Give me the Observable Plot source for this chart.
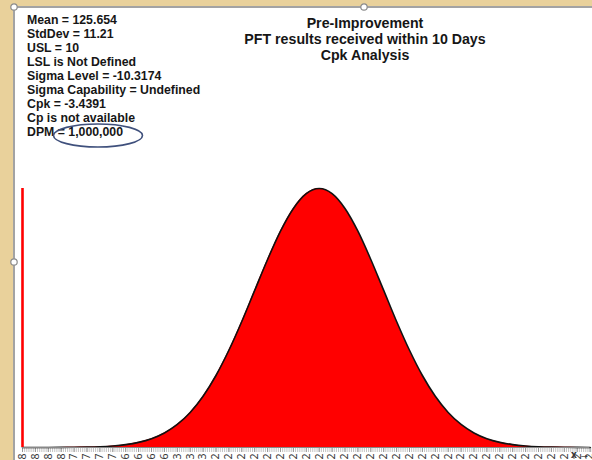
<!DOCTYPE html>
<html>
<head>
<meta charset="utf-8">
<script src="https://cdn.jsdelivr.net/npm/d3@7"></script>
<script src="https://cdn.jsdelivr.net/npm/@observablehq/plot@0.6"></script>
<style>
  html, body { margin: 0; padding: 0; }
  body { width: 592px; height: 460px; overflow: hidden; position: relative;
         background: #e9d19b; font-family: "Liberation Sans", Arial, sans-serif; }
  #box { position: absolute; left: 13px; top: 6px; width: 600px; height: 470px;
         background: #fff; border-left: 2px solid #a3a3a3; border-top: 2px solid #a3a3a3; box-sizing: border-box; }
  #chart { position: absolute; left: 13px; top: 6px; }
  #stats { position: absolute; left: 27px; top: 12.7px; font-size: 12.3px; font-weight: bold;
           line-height: 14.1px; color: #161616; white-space: nowrap; }
  #title { position: absolute; left: 215px; width: 300px; top: 14.6px; font-size: 14.2px; font-weight: bold;
           line-height: 16px; color: #161616; text-align: center; white-space: nowrap; }
  #deco { position: absolute; left: 0; top: 0; pointer-events: none; }
</style>
</head>
<body>
<div id="box"></div>
<div id="chart"></div>
<div id="stats"></div>
<div id="title"></div>
<svg id="deco" width="592" height="460"></svg>
<script>
// ---- data ----
const titleLines = ["Pre-Improvement", "PFT results received within 10 Days", "Cpk Analysis"];
const statLines = [
  "Mean = 125.654",
  "StdDev = 11.21",
  "USL = 10",
  "LSL is Not Defined",
  "Sigma Level = -10.3174",
  "Sigma Capability = Undefined",
  "Cpk = -3.4391",
  "Cp is not available",
  "DPM = 1,000,000"
];
const USL = 10;
// category positions along the x axis (value at each axis category)
const xValues = [74.088, 76.33, 78.572, 80.814, 83.056, 85.298, 87.54, 89.782, 92.024, 94.266,
  96.508, 98.75, 100.992, 103.234, 105.476, 107.718, 109.96, 112.202, 114.444, 116.686,
  118.928, 121.17, 123.412, 125.654, 127.896, 130.138, 132.38, 134.622, 136.864, 139.106,
  141.348, 143.59, 145.832, 148.074, 150.316, 152.558, 154.8, 157.042, 159.284, 161.526,
  163.768, 166.01, 168.252, 170.494, 172.736];
// density at each category
const density = [0.0000009, 0.0000022, 0.0000052, 0.0000119, 0.000026, 0.0000545, 0.00011, 0.000213,
  0.000395, 0.000706, 0.001212, 0.001998, 0.003165, 0.004817, 0.007043, 0.009895, 0.01336,
  0.01732, 0.02159, 0.02584, 0.02973, 0.03285, 0.03489, 0.03559, 0.03489, 0.03285, 0.02973,
  0.02584, 0.02159, 0.01732, 0.01336, 0.009895, 0.007043, 0.004817, 0.003165, 0.001998,
  0.001212, 0.000706, 0.000395, 0.000213, 0.00011, 0.0000545, 0.000026, 0.0000119, 0.0000052];
// tick labels as shown on the axis (floating point artifacts)
const tickLabels = ["74.0880000000008","76.3300000000008","78.5720000000008","80.8140000000008",
  "83.0560000000007","85.2980000000007","87.5400000000007","89.7820000000007",
  "92.0240000000006","94.2660000000006","96.5080000000006","98.7500000000006",
  "100.992000000003","103.234000000003","105.476000000003","107.718000000002",
  "109.960000000002","112.202000000002","114.444000000002","116.686000000002",
  "118.928000000002","121.170000000002","123.412000000002","125.654000000002",
  "127.896000000002","130.138000000002","132.380000000002","134.622000000002",
  "136.864000000002","139.106000000002","141.348000000002","143.590000000002",
  "145.832000000002","148.074000000002","150.316000000002","152.558000000002",
  "154.800000000002","157.042000000002","159.284000000002","161.526000000002",
  "163.768000000002","166.010000000002","168.252000000002","170.494000000002",
  "172.736000000002"];

// ---- build ----
document.getElementById("stats").innerHTML = statLines.map(s => `<div>${s}</div>`).join("");
document.getElementById("title").innerHTML = titleLines.map(s => `<div>${s}</div>`).join("");

const data = xValues.map((x, i) => ({x, y: density[i]}));
const xMin = xValues[0], xMax = xValues[xValues.length - 1];
const peak = d3.max(density);
const step = xValues[1] - xValues[0];
const minorTicks = d3.range(xMin, xMax + step, step / 6);
const labelOf = new Map(xValues.map((v, i) => [v, tickLabels[i]]));

const plot = Plot.plot({
  width: 579,
  height: 454,
  marginLeft: 9,
  marginRight: 2.4,
  marginTop: 182,
  marginBottom: 13,
  style: {background: "transparent", overflow: "hidden"},
  x: {domain: [xMin, xMax], axis: null},
  y: {domain: [0, peak], axis: null},
  marks: [
    Plot.axisX({ticks: minorTicks, tickSize: 5, tickFormat: () => "", stroke: "#b4b4b4", strokeWidth: 0.8}),
    Plot.axisX({ticks: xValues, tickSize: 5, tickPadding: 1, tickRotate: -90, fontSize: 10.5,
      fill: "#3a3a3a", stroke: "#999", tickFormat: d => labelOf.get(d)}),
    Plot.areaY(data, {x: "x", y: "y", fill: "#ff0000", curve: "monotone-x"}),
    Plot.line(data, {x: "x", y: "y", stroke: "#111", strokeWidth: 1.6, curve: "monotone-x"}),
    Plot.ruleY([0], {stroke: "#888", strokeWidth: 1}),
    Plot.ruleX([Math.max(USL, xMin)], {y1: 0, y2: peak, stroke: "#ff0000", strokeWidth: 2.6})
  ]
});
document.getElementById("chart").appendChild(plot);

// decorations: highlight ellipse and selection handles
const deco = d3.select("#deco");
deco.append("ellipse").attr("cx", 98).attr("cy", 135.5).attr("rx", 44.5).attr("ry", 11.5)
  .attr("fill", "none").attr("stroke", "#3f507c").attr("stroke-width", 1.6);
[[14, 7], [364, 7], [14, 262]].forEach(([cx, cy]) => {
  deco.append("circle").attr("cx", cx).attr("cy", cy).attr("r", 3.2)
    .attr("fill", "#fff").attr("stroke", "#8a8a8a").attr("stroke-width", 1.2);
});
</script>
</body>
</html>
